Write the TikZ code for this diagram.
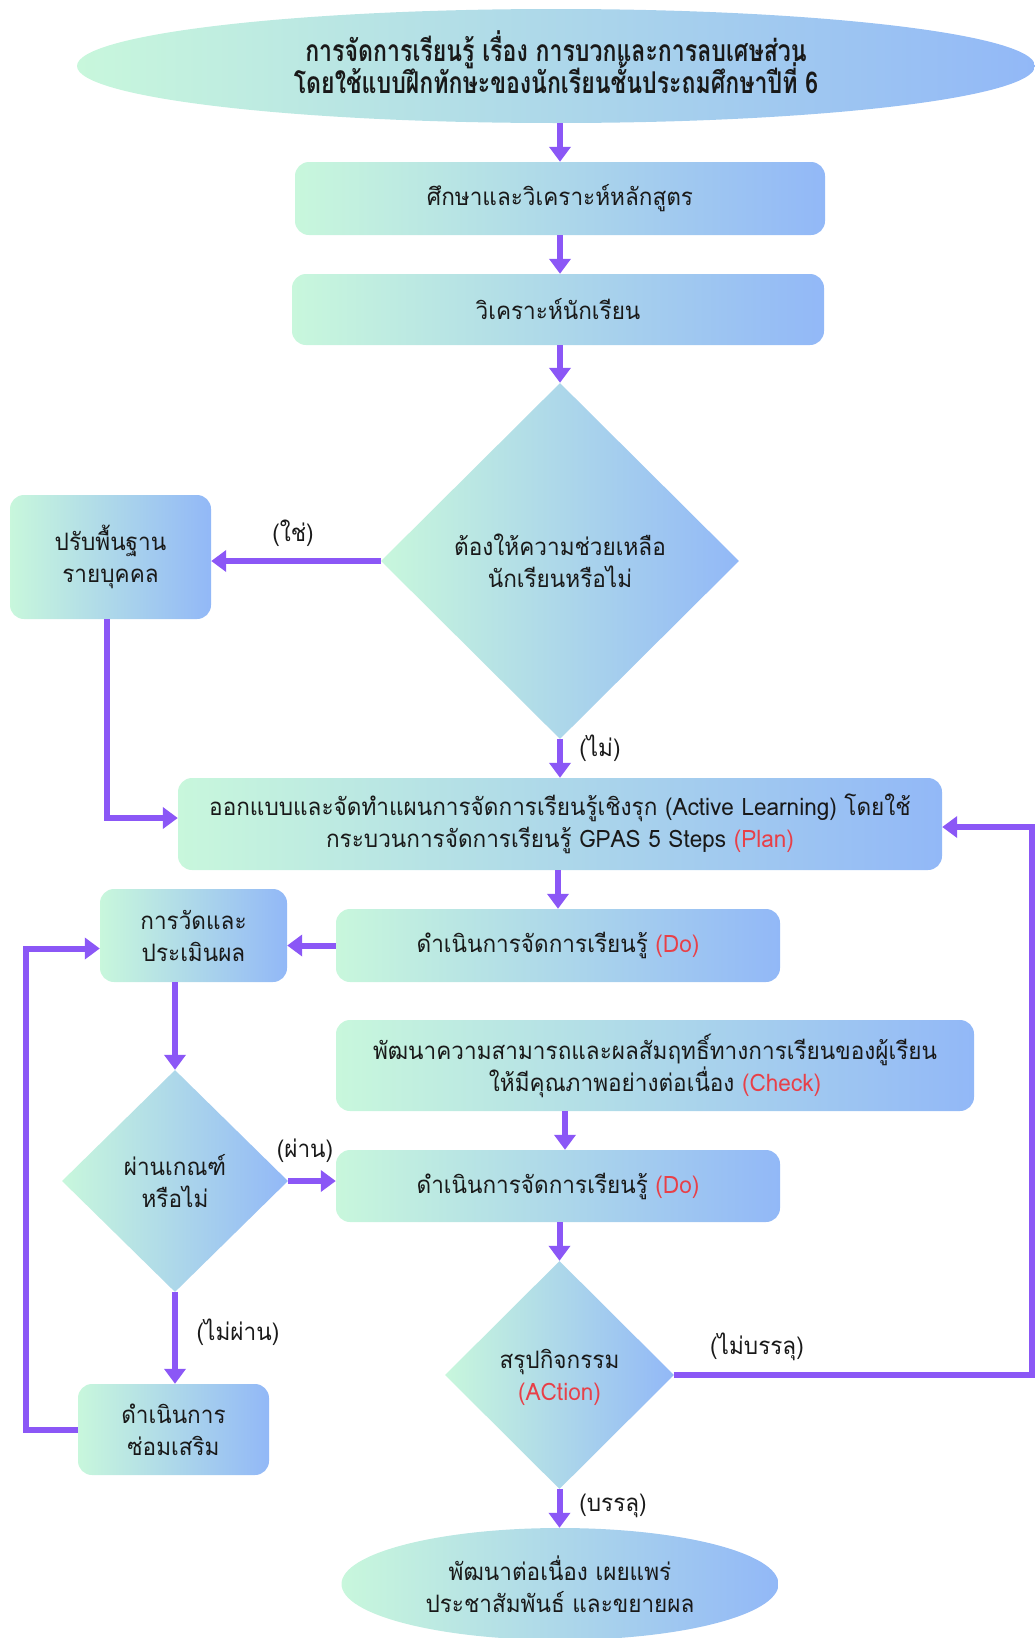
\documentclass[tikz,border=0pt]{standalone}
\usepackage{fontspec}
\usetikzlibrary{shapes.geometric,arrows.meta,calc}
\newfontfamily\thai[Script=Thai,FakeStretch=0.94]{Loma}
\newfontfamily\thaib[Script=Thai,FakeStretch=0.77]{Loma}
\definecolor{cg}{RGB}{200,247,220}
\definecolor{cb}{RGB}{146,184,247}
\definecolor{arrowc}{RGB}{139,87,246}
\definecolor{txt}{RGB}{25,25,25}
\definecolor{rd}{RGB}{232,64,72}
\tikzset{
  grad/.style={left color=cg, right color=cb, draw=none},
  box/.style={grad, rectangle, rounded corners=14pt, inner sep=0pt, align=center, text=txt,
    font={\thai\fontsize{24}{32}\selectfont\lineskiplimit=-50pt}},
  dia/.style={grad, diamond, inner sep=0pt},
  oval/.style={grad, ellipse, inner sep=0pt, align=center, text=txt},
  dtext/.style={align=center, text=txt, inner sep=0pt, font={\thai\fontsize{24}{32}\selectfont\lineskiplimit=-50pt}},
  lbl/.style={text=txt, inner sep=0pt, font={\thai\fontsize{24}{30}\selectfont}},
  conn/.style={line width=6pt, draw=arrowc, -{Triangle[width=21pt,length=15pt]}},
}
\begin{document}
\begin{tikzpicture}[x=1pt,y=-1pt]
\useasboundingbox (0,0) rectangle (1035,1638);

% nodes
\node[oval, minimum width=958pt, minimum height=114pt] (top) at (556,66) {};
\node[align=center, text=txt, inner sep=0pt,
  font={\thaib\bfseries\fontsize{30}{32}\selectfont\lineskiplimit=-50pt}] (title) at (556,62)
  {การจัดการเรียนรู้ เรื่อง การบวกและการลบเศษส่วน\\โดยใช้แบบฝึกทักษะของนักเรียนชั้นประถมศึกษาปีที่ 6};
\node[box, minimum width=530pt, minimum height=73pt] (b1) at (560,198.5) {ศึกษาและวิเคราะห์หลักสูตร};
\node[box, minimum width=532pt, minimum height=71pt] (b2) at (558,309.5) {วิเคราะห์นักเรียน};
\node[dia, minimum width=358pt, minimum height=356pt] (d1) at (560,561) {};
\node[dtext] (d1t) at (d1.center) {ต้องให้ความช่วยเหลือ\\นักเรียนหรือไม่};
\node[box, minimum width=201pt, minimum height=124pt] (adj) at (110.5,557) {ปรับพื้นฐาน\\รายบุคคล};
\node[box, minimum width=764pt, minimum height=92pt] (plan) at (560,824)
  {ออกแบบและจัดทำแผนการจัดการเรียนรู้เชิงรุก (Active Learning) โดยใช้\\กระบวนการจัดการเรียนรู้ GPAS 5 Steps \textcolor{rd}{(Plan)}};
\node[box, minimum width=187pt, minimum height=93pt] (measure) at (193.5,935.5) {การวัดและ\\ประเมินผล};
\node[box, minimum width=444pt, minimum height=73pt] (do1) at (558,945.5) {ดำเนินการจัดการเรียนรู้ \textcolor{rd}{(Do)}};
\node[box, minimum width=638pt, minimum height=91pt] (check) at (655,1065.5)
  {พัฒนาความสามารถและผลสัมฤทธิ์ทางการเรียนของผู้เรียน\\ให้มีคุณภาพอย่างต่อเนื่อง \textcolor{rd}{(Check)}};
\node[dia, minimum width=226pt, minimum height=222pt] (d2) at (175,1181) {};
\node[dtext] (d2t) at (d2.center) {ผ่านเกณฑ์\\หรือไม่};
\node[box, minimum width=444pt, minimum height=72pt] (do2) at (558,1186) {ดำเนินการจัดการเรียนรู้ \textcolor{rd}{(Do)}};
\node[box, minimum width=191pt, minimum height=91pt] (rem) at (173.5,1429.5) {ดำเนินการ\\ซ่อมเสริม};
\node[dia, minimum width=229pt, minimum height=228pt] (d3) at (559.5,1375) {};
\node[dtext] (d3t) at (559.5,1377) {สรุปกิจกรรม\\\textcolor{rd}{(ACtion)}};
\node[oval, minimum width=437pt, minimum height=112pt,
  font={\thai\fontsize{24}{32}\selectfont\lineskiplimit=-50pt}] (end) at (560,1584)
  {พัฒนาต่อเนื่อง เผยแพร่\\ประชาสัมพันธ์ และขยายผล};

% loop coordinates
\coordinate (L) at (26,0);
\coordinate (R) at (1032,0);

% connectors
\draw[conn] (b1.north |- top.south) -- (b1.north);
\draw[conn] (b1.south) -- (b1.south |- b2.north);
\draw[conn] (d1.north |- b2.south) -- (d1.north);
\draw[conn] (d1.west) -- (d1.west -| adj.east);
\draw[conn] (d1.south) -- (d1.south |- plan.north);
\draw[conn] ([xshift=-4pt]adj.south) |- ([yshift=6pt]plan.west);
\draw[conn] (plan.south -| do1.north) -- (do1.north);
\draw[conn] (do1.west) -- (do1.west -| measure.east);
\draw[conn] (measure.south -| d2.north) -- (d2.north);
\draw[conn] (d2.east) -- (d2.east -| do2.west);
\draw[conn] (d2.south) -- (d2.south |- rem.north);
\draw[conn] (rem.west) -- (rem.west -| L) |- ([yshift=-13pt]measure.west);
\draw[conn] ([xshift=7pt]do2.north |- check.south) -- ([xshift=7pt]do2.north);
\draw[conn] (do2.south -| d3.north) -- (d3.north);
\draw[conn] (d3.east) -- (d3.east -| R) |- ([yshift=-3pt]plan.east);
\draw[conn] (d3.south) -- (d3.south |- end.north);

% labels
\node[lbl] (lyes) at (293,533) {(ใช่)};
\node[lbl] (lno) at (600,748) {(ไม่)};
\node[lbl] (lpass) at (305,1151) {(ผ่าน)};
\node[lbl] (lfail) at (238,1332) {(ไม่ผ่าน)};
\node[lbl] (lnot) at (757,1347) {(ไม่บรรลุ)};
\node[lbl] (lok) at (613,1506) {(บรรลุ)};
\end{tikzpicture}
\end{document}
